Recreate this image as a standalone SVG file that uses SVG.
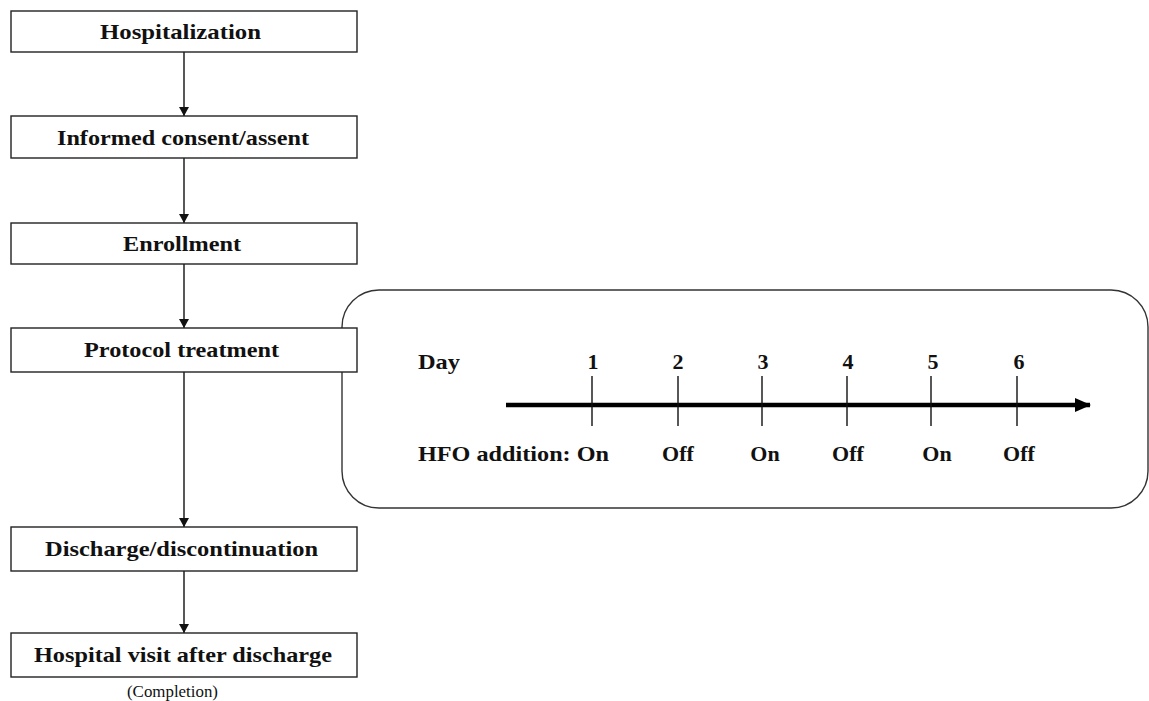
<svg xmlns="http://www.w3.org/2000/svg" width="1149" height="701" viewBox="0 0 1149 701">
<defs>
<style>
.box{fill:#fff;stroke:#222;stroke-width:1.4}
.t{font-family:"Liberation Serif","Times New Roman",serif;font-weight:bold;font-size:22px;fill:#111}
.c{font-family:"Liberation Serif","Times New Roman",serif;font-size:17px;fill:#111}
.ln{stroke:#111;stroke-width:1.4;fill:none}
.tick{stroke:#111;stroke-width:1.4}
</style>
<marker id="ah" markerWidth="9" markerHeight="10" refX="9" refY="5" orient="auto" markerUnits="userSpaceOnUse">
<path d="M0,0 L9,5 L0,10 Z" fill="#111"/>
</marker>
<marker id="big" markerWidth="16" markerHeight="14" refX="15" refY="7" orient="auto" markerUnits="userSpaceOnUse">
<path d="M0,0 L16,7 L0,14 Z" fill="#000"/>
</marker>
</defs>
<rect width="1149" height="701" fill="#fff"/>

<g id="timeline-panel">
<rect x="342" y="290" width="806" height="218" rx="37" ry="37" fill="#fff" stroke="#333" stroke-width="1.4"/>
<text class="t" x="418" y="369" textLength="42" lengthAdjust="spacingAndGlyphs">Day</text>
<g text-anchor="middle">
<text class="t" x="593" y="369">1</text>
<text class="t" x="678" y="369">2</text>
<text class="t" x="763" y="369">3</text>
<text class="t" x="848" y="369">4</text>
<text class="t" x="933" y="369">5</text>
<text class="t" x="1019" y="369">6</text>
</g>
<line x1="506" y1="405" x2="1090" y2="405" stroke="#000" stroke-width="4.5" marker-end="url(#big)"/>
<line class="tick" x1="592" y1="376" x2="592" y2="426"/>
<line class="tick" x1="678" y1="376" x2="678" y2="426"/>
<line class="tick" x1="762" y1="376" x2="762" y2="426"/>
<line class="tick" x1="847" y1="376" x2="847" y2="426"/>
<line class="tick" x1="931" y1="376" x2="931" y2="426"/>
<line class="tick" x1="1017" y1="376" x2="1017" y2="426"/>
<text class="t" x="418" y="461" textLength="191" lengthAdjust="spacingAndGlyphs">HFO addition: On</text>
<g text-anchor="middle">
<text class="t" x="678" y="461">Off</text>
<text class="t" x="765" y="461">On</text>
<text class="t" x="848" y="461">Off</text>
<text class="t" x="937" y="461">On</text>
<text class="t" x="1019" y="461">Off</text>
</g>
</g>

<g id="connectors">
<line class="ln" x1="184" y1="52" x2="184" y2="116" marker-end="url(#ah)"/>
<line class="ln" x1="184" y1="158" x2="184" y2="223" marker-end="url(#ah)"/>
<line class="ln" x1="184" y1="264" x2="184" y2="328" marker-end="url(#ah)"/>
<line class="ln" x1="184" y1="372" x2="184" y2="527" marker-end="url(#ah)"/>
<line class="ln" x1="184" y1="571" x2="184" y2="633" marker-end="url(#ah)"/>
</g>

<g id="hospitalization">
<rect class="box" x="11" y="11" width="346" height="41"/>
<text class="t" x="100" y="38.5" textLength="161" lengthAdjust="spacingAndGlyphs">Hospitalization</text>
</g>
<g id="consent">
<rect class="box" x="11" y="116" width="346" height="42"/>
<text class="t" x="57" y="145" textLength="252" lengthAdjust="spacingAndGlyphs">Informed consent/assent</text>
</g>
<g id="enrollment">
<rect class="box" x="11" y="223" width="346" height="41"/>
<text class="t" x="123" y="251" textLength="118" lengthAdjust="spacingAndGlyphs">Enrollment</text>
</g>
<g id="protocol">
<rect class="box" x="11" y="328" width="346" height="44"/>
<text class="t" x="84" y="357" textLength="195" lengthAdjust="spacingAndGlyphs">Protocol treatment</text>
</g>
<g id="discharge">
<rect class="box" x="11" y="527" width="346" height="44"/>
<text class="t" x="45" y="556" textLength="273" lengthAdjust="spacingAndGlyphs">Discharge/discontinuation</text>
</g>
<g id="visit">
<rect class="box" x="11" y="633" width="346" height="44"/>
<text class="t" x="34" y="662" textLength="298" lengthAdjust="spacingAndGlyphs">Hospital visit after discharge</text>
<text class="c" x="127" y="697" textLength="91" lengthAdjust="spacingAndGlyphs">(Completion)</text>
</g>
</svg>
